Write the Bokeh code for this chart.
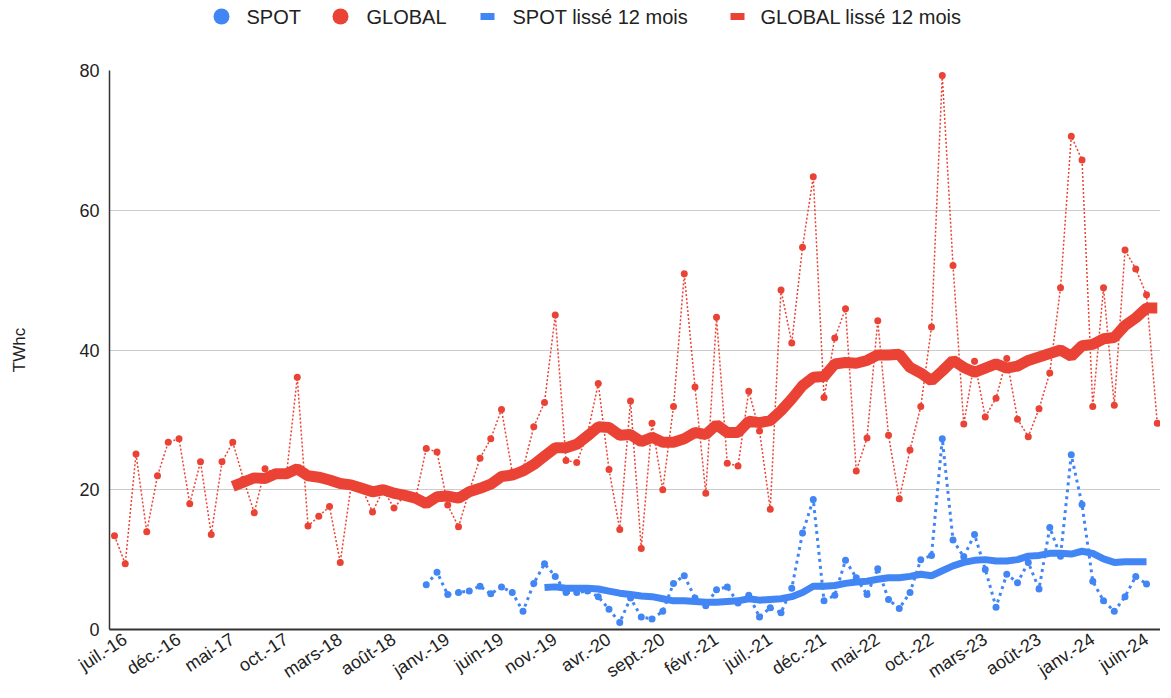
import math
from bokeh.plotting import figure
from bokeh.models import Range1d, FixedTicker
from bokeh.layouts import column
from bokeh.embed import file_html
from bokeh.resources import INLINE
from bokeh.core.properties import value

BLUE = "#4285F4"
RED = "#EA4335"
FONT = "Liberation Sans"

# Monthly series, juil.-16 (index 0) .. août-24 (index 97)
tick_labels = ["juil.-16", "déc.-16", "mai-17", "oct.-17", "mars-18", "août-18",
               "janv.-19", "juin-19", "nov.-19", "avr.-20", "sept.-20", "févr.-21",
               "juil.-21", "déc.-21", "mai-22", "oct.-22", "mars-23", "août-23",
               "janv.-24", "juin-24"]
tick_step = 5

global_vals = [13.4, 9.4, 25.1, 14.0, 22.0, 26.8, 27.3, 18.0, 24.0, 13.6,
               24.0, 26.8, 21.5, 16.7, 23.0, 22.4, 22.2, 36.1, 14.8, 16.2,
               17.6, 9.6, 20.5, 20.3, 16.8, 20.0, 17.4, 19.2, 18.7, 25.9,
               25.4, 17.8, 14.7, 19.8, 24.5, 27.3, 31.5, 22.5, 23.0, 29.0,
               32.5, 45.0, 24.2, 23.9, 28.0, 35.2, 22.9, 14.3, 32.7, 11.6,
               29.5, 20.0, 31.9, 50.9, 34.7, 19.5, 44.7, 23.8, 23.4, 34.1,
               28.4, 17.2, 48.6, 41.0, 54.7, 64.8, 33.2, 41.7, 45.9, 22.7,
               27.4, 44.2, 27.8, 18.7, 25.7, 31.9, 43.3, 79.3, 52.1, 29.4,
               38.4, 30.4, 33.1, 38.8, 30.1, 27.6, 31.6, 36.7, 48.9, 70.6,
               67.2, 31.9, 48.9, 32.1, 54.3, 51.6, 47.9, 29.5]

spot_start = 29  # déc.-18
spot_vals = [6.4, 8.2, 5.0, 5.3, 5.5, 6.2, 5.1, 6.1, 5.3, 2.6,
             6.6, 9.4, 7.6, 5.3, 5.3, 5.5, 4.7, 2.9, 1.0, 4.5,
             1.8, 1.5, 2.6, 6.6, 7.7, 4.5, 3.4, 5.7, 6.1, 3.8,
             4.9, 1.8, 3.1, 2.4, 5.9, 13.8, 18.6, 4.1, 4.9, 9.9,
             7.4, 5.0, 8.7, 4.3, 3.0, 5.3, 10.0, 10.6, 27.3, 12.8,
             10.4, 13.6, 8.6, 3.2, 7.9, 6.7, 9.6, 5.8, 14.6, 10.5,
             25.0, 17.9, 6.9, 4.1, 2.6, 4.7, 7.6, 6.5]

global_smooth_start = 11  # juin-17
global_smooth = [20.5, 21.1, 21.7, 21.6, 22.3, 22.3, 23.0, 22.0, 21.8,
                 21.4, 20.9, 20.7, 20.2, 19.7, 20.0, 19.5, 19.2, 18.8, 18.0,
                 19.0, 19.1, 18.8, 19.7, 20.2, 20.8, 21.9, 22.1, 22.7, 23.6,
                 24.8, 26.0, 26.0, 26.5, 27.7, 29.0, 28.9, 27.8, 27.9, 26.9,
                 27.5, 26.8, 26.8, 27.3, 28.2, 27.9, 29.3, 28.2, 28.2, 29.8,
                 29.6, 29.9, 31.3, 33.0, 34.9, 36.1, 36.2, 38.0, 38.2, 38.1,
                 38.5, 39.3, 39.3, 39.4, 37.5, 36.7, 35.6, 37.0, 38.5, 37.5,
                 36.8, 37.4, 38.0, 37.4, 37.7, 38.5, 39.0, 39.5, 40.0, 39.1,
                 40.6, 40.8, 41.6, 41.8, 43.5, 44.6, 46.0, 46.0]

spot_smooth_start = 40  # nov.-19
spot_smooth = [6.0, 6.1, 5.9, 5.9, 5.9, 5.8, 5.5, 5.2, 5.0, 4.8,
               4.7, 4.4, 4.1, 4.1, 4.0, 3.9, 3.9, 4.0, 4.1, 4.4,
               4.2, 4.3, 4.4, 4.7, 5.3, 6.2, 6.2, 6.3, 6.6, 6.8,
               6.9, 7.2, 7.4, 7.4, 7.6, 7.9, 7.7, 8.4, 9.1, 9.6,
               9.9, 10.0, 9.8, 9.8, 10.0, 10.5, 10.6, 10.9, 10.9, 10.8,
               11.2, 10.9, 10.1, 9.6, 9.7, 9.7, 9.7]

legend_labels = ["SPOT", "GLOBAL", "SPOT lissé 12 mois", "GLOBAL lissé 12 mois"]
y_ticks = [0, 20, 40, 60, 80]

gx = list(range(len(global_vals)))
sx = list(range(spot_start, spot_start + len(spot_vals)))
gsx = list(range(global_smooth_start, global_smooth_start + len(global_smooth)))
ssx = list(range(spot_smooth_start, spot_smooth_start + len(spot_smooth)))

W = 1160
LEFT = 109
# ---------------- legend strip (frame aligned with the chart frame) ----------------
LH = 37
FW = W - LEFT
lg = figure(width=W, height=LH, x_range=Range1d(0, FW), y_range=Range1d(0, LH),
            toolbar_location=None, output_backend="svg",
            x_axis_location=None, y_axis_location=None,
            min_border_left=LEFT, min_border_right=0,
            min_border_top=0, min_border_bottom=0)
lg.grid.visible = False
lg.outline_line_color = None
ly = 21
lg.scatter([112], [ly], size=16, color=BLUE, line_color=None)
lg.scatter([231], [ly], size=16, color=RED, line_color=None)
lg.rect([378], [ly], width=14, height=7, color=BLUE, line_color=None)
lg.rect([628], [ly], width=14, height=7, color=RED, line_color=None)
lg.text([137, 257, 403, 651], [ly] * 4, text=legend_labels,
        text_font=value(FONT), text_font_size="20px", text_baseline="middle",
        text_align="left", text_color="#222222")

# ---------------- main chart ----------------
p = figure(width=W, height=657, x_range=Range1d(-0.465, 97.3), y_range=Range1d(0, 80),
           toolbar_location=None, output_backend="svg",
           min_border_left=LEFT, min_border_right=0, min_border_top=33, min_border_bottom=65)
p.outline_line_color = None
p.xgrid.visible = False
p.ygrid.grid_line_color = "#cccccc"
p.ygrid.grid_line_width = 1

p.yaxis.ticker = FixedTicker(ticks=y_ticks)
p.yaxis.axis_line_color = "#333333"
p.yaxis.axis_line_width = 1.5
p.yaxis.major_tick_line_color = None
p.yaxis.minor_tick_line_color = None
p.yaxis.major_tick_out = 0
p.yaxis.major_label_standoff = 10
p.yaxis.major_label_text_font = FONT
p.yaxis.major_label_text_font_size = "18px"
p.yaxis.major_label_text_color = "#222222"
p.yaxis.axis_label = "TWhc"
p.yaxis.axis_label_text_font = FONT
p.yaxis.axis_label_text_font_style = "normal"
p.yaxis.axis_label_text_font_size = "17px"
p.yaxis.axis_label_text_color = "#222222"
p.yaxis.axis_label_standoff = 47

# labels are drawn slightly right of each month, as in the original
label_shift = 1.0
tick_pos = [i * tick_step + label_shift for i in range(len(tick_labels))]
p.xaxis.ticker = FixedTicker(ticks=tick_pos)
p.xaxis.major_label_overrides = {t: lab for t, lab in zip(tick_pos, tick_labels)}
p.xaxis.major_label_orientation = math.radians(33)
p.xaxis.axis_line_color = "#333333"
p.xaxis.axis_line_width = 2
p.xaxis.major_tick_line_color = None
p.xaxis.minor_tick_line_color = None
p.xaxis.major_tick_out = 0
p.xaxis.major_label_standoff = 8
p.xaxis.major_label_text_font = FONT
p.xaxis.major_label_text_font_size = "18px"
p.xaxis.major_label_text_color = "#222222"

# SPOT monthly
p.line(sx, spot_vals, color=BLUE, line_width=3, line_dash="3 4")
p.scatter(sx, spot_vals, size=7, color=BLUE, line_color=None)
# GLOBAL monthly
p.line(gx, global_vals, color=RED, line_width=1.5, line_dash="2 2")
p.scatter(gx, global_vals, size=7, color=RED, line_color=None)
# smoothed
p.line(ssx, spot_smooth, color=BLUE, line_width=7)
p.line(gsx, global_smooth, color=RED, line_width=11)

layout = column(lg, p, spacing=0)
open("out.html", "w").write(file_html(layout, INLINE))
